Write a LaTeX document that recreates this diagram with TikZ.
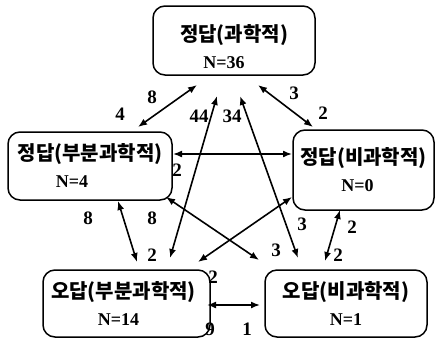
\documentclass[tikz,border=0pt]{standalone}
\usepackage{fontspec}
\setmainfont{Liberation Serif}
\newfontfamily\kr{Noto Sans CJK KR}
\usetikzlibrary{arrows.meta}
\newcommand\krt[1]{{\fontsize{20}{27}\selectfont\kr #1}}
\begin{document}
\begin{tikzpicture}[x=1pt,y=-1pt,
  box/.style={draw,line width=1.5pt,rounded corners=12pt,inner sep=0pt,align=center,
    font=\fontsize{18}{27}\selectfont\bfseries},
  conn/.style={line width=1.6pt,{Latex[length=9pt,width=7pt]}-{Latex[length=9pt,width=7pt]}},
  num/.style={font=\fontsize{19}{19}\selectfont\bfseries,inner sep=0pt}]
\useasboundingbox (0,0) rectangle (435,338);
% boxes
\node[box,minimum width=162pt,minimum height=69pt] (T) at (234,40.5)
  {\rule{0pt}{0pt}\\[2pt]\krt{정답(과학적)}\hspace*{18pt}\\N=36\hspace*{20pt}};
\node[box,minimum width=164pt,minimum height=68pt] (LM) at (90,166)
  {\krt{정답(부분과학적)}\\N=4\hspace*{36pt}};
\node[box,minimum width=141pt,minimum height=80pt] (RM) at (363.5,170)
  {\krt{정답(비과학적)}\\N=0\hspace*{12pt}};
\node[box,minimum width=167pt,minimum height=67pt] (BL) at (126.5,303.5)
  {\krt{오답(부분과학적)}\hspace*{6pt}\\N=14\hspace*{16pt}};
\node[box,minimum width=162pt,minimum height=67pt] (BR) at (346,303.5)
  {\krt{오답(비과학적)}\\N=1};
% connector end points
\coordinate (p1a) at (197,85);  \coordinate (p1b) at (138,127);
\coordinate (p2a) at (258,85);  \coordinate (p2b) at (313,127);
\coordinate (p3a) at (173,154); \coordinate (p3b) at (292,154);
\coordinate (p4a) at (217,96);  \coordinate (p4b) at (170,258);
\coordinate (p5a) at (240,96);  \coordinate (p5b) at (298,258);
\coordinate (p6a) at (166,197); \coordinate (p6b) at (259,260);
\coordinate (p7a) at (292,197); \coordinate (p7b) at (198,262);
\coordinate (p8a) at (340,210); \coordinate (p8b) at (325,261);
\coordinate (p9a) at (118,201); \coordinate (p9b) at (137,262);
\coordinate (p10a) at (207,305); \coordinate (p10b) at (260,305);
% connectors
\draw[conn] (p1a) -- (p1b);
\draw[conn] (p2a) -- (p2b);
\draw[conn] (p3a) -- (p3b);
\draw[conn] (p4a) -- (p4b);
\draw[conn] (p5a) -- (p5b);
\draw[conn] (p6a) -- (p6b);
\draw[conn] (p7a) -- (p7b);
\draw[conn] (p8a) -- (p8b);
\draw[conn] (p9a) -- (p9b);
\draw[conn] (p10a) -- (p10b);
% labels
\node[num] (l1) at (120,114) {4};
\node[num] (l2) at (152,97) {8};
\node[num] (l3) at (199,116) {44};
\node[num] (l4) at (232,116) {34};
\node[num] (l5) at (294,93) {3};
\node[num] (l6) at (323,113) {2};
\node[num] (l7) at (177,170) {2};
\node[num] (l8) at (88,218) {8};
\node[num] (l9) at (152,218) {8};
\node[num] (l10) at (302,224) {3};
\node[num] (l11) at (352,227) {2};
\node[num] (l12) at (152,255) {2};
\node[num] (l13) at (276,250) {3};
\node[num] (l14) at (338,255) {2};
\node[num] (l15) at (213,277) {2};
\node[num] (l16) at (210,329) {9};
\node[num] (l17) at (247,329) {1};
\end{tikzpicture}
\end{document}
